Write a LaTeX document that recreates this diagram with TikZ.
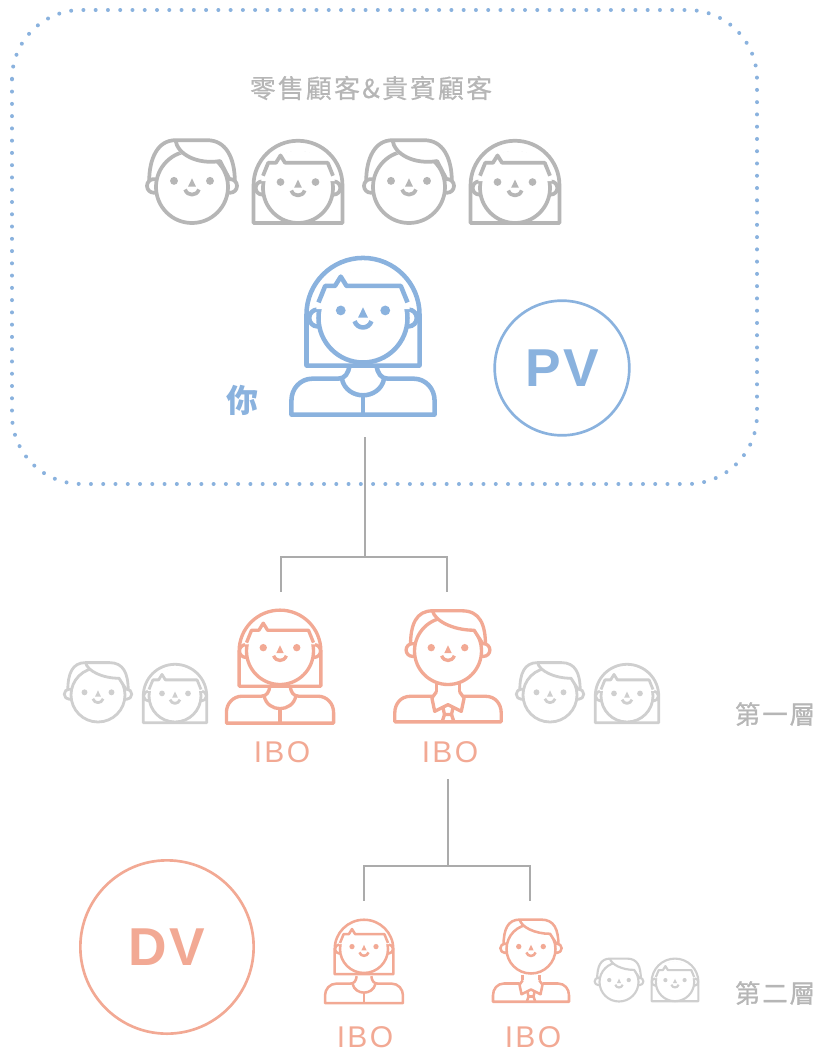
\documentclass[tikz,border=0pt]{standalone}
\usepackage{fontspec}
\setmainfont{Liberation Sans}
\newfontfamily\cjk{Noto Sans CJK TC}
\newfontfamily\cjkmed[FakeBold=.5]{Noto Sans CJK TC}
\newfontfamily\cjklayer[FakeBold=1.2]{Noto Sans CJK TC}
\definecolor{youblue}{HTML}{8AB2DE}
\definecolor{ibored}{HTML}{F2A994}
\definecolor{cusgray}{HTML}{B6B6B6}
\definecolor{lowgray}{HTML}{CFCFCF}
\definecolor{wiregray}{HTML}{ABABAB}
\newcommand{\headtall}{\def\hairtop{1.3}\def\hairside{1.19}\def\hairback{1.27}\def\hairlift{.08}\def\faceup{.07}\def\bangy{.72}}
\newcommand{\headlow}{\def\hairtop{1.2}\def\hairside{1.12}\def\hairback{1.22}\def\hairlift{0}\def\faceup{0}\def\bangy{.62}}
\tikzset{
  pics/manhead/.style={code={
    \begin{scope}[x=#1*.75pt,y=#1*.75pt,line join=round]
      \draw[fill=white] (-\hairside,.15) .. controls (-\hairside,.8) and (-.95,\hairtop) .. (-.46,\hairtop) -- (.42,\hairtop)
        .. controls (.95,\hairtop) and (\hairside,.8) .. (\hairside,.15);
      \draw[fill=white] (-1.06,.03) circle [radius=.19];
      \draw[fill=white] (1.06,.03) circle [radius=.19];
      \draw[fill=white] (0,0) circle [radius=1];
      \fill[white,draw=none] (-.44,1.12) .. controls (-.38,.85) and (.15,.62) .. (.78,\bangy) -- (1.05,.2) -- (1.03,.5) -- (.83,.78) -- (.5,1.02) -- (.3,1.1) -- cycle;
      \draw[fill=none] (-.46,\hairtop) .. controls (-.4,.9) and (.15,.62) .. (.78,\bangy) -- (1.05,.2);
      \pgfmathsetmacro{\eyey}{.1+\faceup}
      \fill[draw=none,fill=\personcolor] (-.5,\eyey) circle [radius=.11] (.5,\eyey) circle [radius=.11];
      \fill[draw=none,fill=\personcolor] (0,.17+\faceup) -- (.11,-.06+\faceup) -- (-.11,-.06+\faceup) -- cycle;
      \draw[fill=none] (-.19,-.14+\faceup) .. controls (-.13,-.33+\faceup) and (.13,-.33+\faceup) .. (.19,-.14+\faceup);
    \end{scope}}},
  pics/ladyhead/.style={code={
    \begin{scope}[x=#1*.75pt,y=#1*.75pt,line join=round]
      \draw[fill=white] (-\hairback,\hairbot) -- (-\hairback,\hairlift) arc [start angle=180,end angle=0,radius=\hairback] -- (\hairback,\hairbot) -- cycle;
      \draw[fill=white] (-1.02,0) circle [radius=.19];
      \draw[fill=white] (1.02,0) circle [radius=.19];
      \draw[fill=white] (0,0) circle [radius=1];
      \fill[white,draw=none] (-1.05,.2) -- (-1.03,.4) -- (-.86,.7) -- (-.5,.98) -- (0,1.09) -- (.5,.98) -- (.86,.7) -- (1.03,.4) -- (1.05,.2) -- cycle;
      \draw[fill=none] (-1,\bangy-.37) -- (-.85,\bangy) -- (-.63,\bangy) -- (-.5,\bangy+.21) -- (-.37,\bangy) -- (.85,\bangy) -- (1,\bangy-.37);
      \pgfmathsetmacro{\eyey}{.1+\faceup}
      \fill[draw=none,fill=\personcolor] (-.5,\eyey) circle [radius=.11] (.5,\eyey) circle [radius=.11];
      \fill[draw=none,fill=\personcolor] (0,.17+\faceup) -- (.11,-.06+\faceup) -- (-.11,-.06+\faceup) -- cycle;
      \draw[fill=none] (-.19,-.14+\faceup) .. controls (-.13,-.33+\faceup) and (.13,-.33+\faceup) .. (.19,-.14+\faceup);
    \end{scope}}},
  pics/ladybody/.style={code={
    \begin{scope}[x=#1*.75pt,y=#1*.75pt,line join=round]
      \draw[fill=none] (-.3,-1.07) .. controls (-.32,-1.25) and (-.4,-1.37) .. (-.55,-1.37) -- (-1.12,-1.37)
        .. controls (-1.4,-1.37) and (-1.59,-1.6) .. (-1.59,-1.85) -- (-1.59,-2.17) -- (1.59,-2.17) -- (1.59,-1.85)
        .. controls (1.59,-1.6) and (1.4,-1.37) .. (1.12,-1.37) -- (.55,-1.37)
        .. controls (.4,-1.37) and (.32,-1.25) .. (.3,-1.07);
      \draw[fill=none] (-.47,-1.37) .. controls (-.42,-1.62) and (-.2,-1.74) .. (0,-1.74)
        .. controls (.2,-1.74) and (.42,-1.62) .. (.47,-1.37);
      \draw (0,-1.74) -- (0,-2.17);
    \end{scope}}},
  pics/manbody/.style={code={
    \begin{scope}[x=#1*.75pt,y=#1*.75pt,line join=round]
      \draw[fill=none] (-.33,-1.03) -- (-.33,-1.25) (.33,-1.03) -- (.33,-1.25);
      \draw[fill=none] (-.46,-1.38) -- (-1.08,-1.38) .. controls (-1.35,-1.38) and (-1.52,-1.6) .. (-1.52,-1.85)
        -- (-1.52,-2.11) -- (1.52,-2.11) -- (1.52,-1.85)
        .. controls (1.52,-1.6) and (1.35,-1.38) .. (1.08,-1.38) -- (.46,-1.38);
      \draw[fill=none] (-.33,-1.25) -- (-.46,-1.43) -- (-.38,-1.81) -- (0,-1.62) -- (.38,-1.81) -- (.46,-1.43) -- (.33,-1.25);
      \draw[fill=none] (-.14,-1.72) -- (-.1,-1.9) -- (.1,-1.9) -- (.14,-1.72);
      \draw[fill=none] (-.1,-1.9) -- (-.17,-2.11) (.1,-1.9) -- (.17,-2.11);
    \end{scope}}},
  you/.style={draw=youblue,line width=3.4pt,/utils/exec={\def\personcolor{youblue}\headtall\def\hairbot{-1.07}}},
  ibo/.style={draw=ibored,line width=2.5pt,/utils/exec={\def\personcolor{ibored}\headlow\def\hairbot{-1.05}}},
  ibosmall/.style={draw=ibored,line width=1.9pt,/utils/exec={\def\personcolor{ibored}\headlow\def\hairbot{-1.05}}},
  customer/.style={draw=cusgray,line width=2.8pt,/utils/exec={\def\personcolor{cusgray}\headtall\def\hairbot{-1}}},
  lowcus/.style={draw=lowgray,line width=2.1pt,/utils/exec={\def\personcolor{lowgray}\headlow\def\hairbot{-1.03}}},
  lowcussmall/.style={draw=lowgray,line width=1.6pt,/utils/exec={\def\personcolor{lowgray}\headlow\def\hairbot{-1}}},
  wire/.style={draw=wiregray,line width=1.1pt},
  ibolabel/.style={text=ibored,font=\fontsize{22.5}{24}\selectfont\addfontfeature{LetterSpace=8}},
  layerlabel/.style={text=cusgray,font=\cjklayer\fontsize{19}{21}\selectfont\addfontfeature{LetterSpace=8}},
  bubble/.style={circle,draw,line width=2pt,inner sep=0pt}
}
\begin{document}
\begin{tikzpicture}[x=.75pt,y=-.75pt]
   \useasboundingbox (0,0) rectangle (821,1053);

   \draw[youblue,line width=3pt,line cap=round,dash pattern=on 0pt off 9.2pt,rounded corners=52pt] (12,10) rectangle (757,484);
   \node[text=cusgray,font=\cjkmed\fontsize{19.5}{22}\selectfont\addfontfeature{LetterSpace=8}] (title) at (371,88) {零售顧客\&貴賓顧客};

   % top row
   \pic[customer] at (192,187) {manhead=36};
   \pic[customer] at (298,188) {ladyhead=35};
   \pic[customer] at (409,187) {manhead=36};
   \pic[customer] at (515,188) {ladyhead=35};

   % you
   \pic[you] at (363,317) {ladybody=45};
   \pic[you] at (363,318) {ladyhead=44.5};
   \node[text=youblue,font=\cjk\bfseries\fontsize{24}{26}\selectfont] (nameyou) at (242,400) {你};
   \node[bubble,draw=youblue,text=youblue,minimum size=101pt,font=\bfseries\fontsize{40}{42}\selectfont\addfontfeature{LetterSpace=4}] (pv) at (562,368) {PV};

   % connectors
   \coordinate (youbase) at (365,437);
   \coordinate (split) at (365,557);
   \coordinate (left) at (281,592);
   \coordinate (right) at (447,592);
   \draw[wire] (youbase) -- (split);
   \draw[wire] (split) -| (left);
   \draw[wire] (split) -| (right);
   \coordinate (ibobase) at (448,779);
   \coordinate (splitb) at (448,866);
   \coordinate (leftb) at (364,901);
   \coordinate (rightb) at (530,901);
   \draw[wire] (ibobase) -- (splitb);
   \draw[wire] (splitb) -| (leftb);
   \draw[wire] (splitb) -| (rightb);

   % first level
   \pic[lowcus] at (98,695) {manhead=27};
   \pic[lowcus] at (175,696) {ladyhead=26};
   \pic[ibo] at (280,650) {ladybody=33.7};
   \pic[ibo] at (280,651) {ladyhead=33.5};
   \pic[ibo] at (448,648) {manbody=35};
   \pic[ibo] at (448,651) {manhead=33.5};
   \pic[lowcus] at (550,695) {manhead=27};
   \pic[lowcus] at (627,696) {ladyhead=26};
   \node[ibolabel] (iboa) at (282,752) {IBO};
   \node[ibolabel] (ibob) at (450,752) {IBO};
   \node[layerlabel] (layera) at (775,714) {第一層};

   % second level
   \node[bubble,draw=ibored,text=ibored,minimum size=130pt,font=\bfseries\fontsize{40}{42}\selectfont\addfontfeature{LetterSpace=4}] (dv) at (167,947) {DV};
   \pic[ibosmall] at (364,950) {ladybody=24.5};
   \pic[ibosmall] at (364,949) {ladyhead=24};
   \pic[ibosmall] at (531,949) {manbody=25};
   \pic[ibosmall] at (531,949) {manhead=24.5};
   \pic[lowcussmall] at (619,982) {manhead=19.5};
   \pic[lowcussmall] at (675,982) {ladyhead=19.2};
   \node[ibolabel] (iboc) at (365,1037) {IBO};
   \node[ibolabel] (ibod) at (533,1037) {IBO};
   \node[layerlabel] (layerb) at (775,993) {第二層};
 \end{tikzpicture}
\end{document}
